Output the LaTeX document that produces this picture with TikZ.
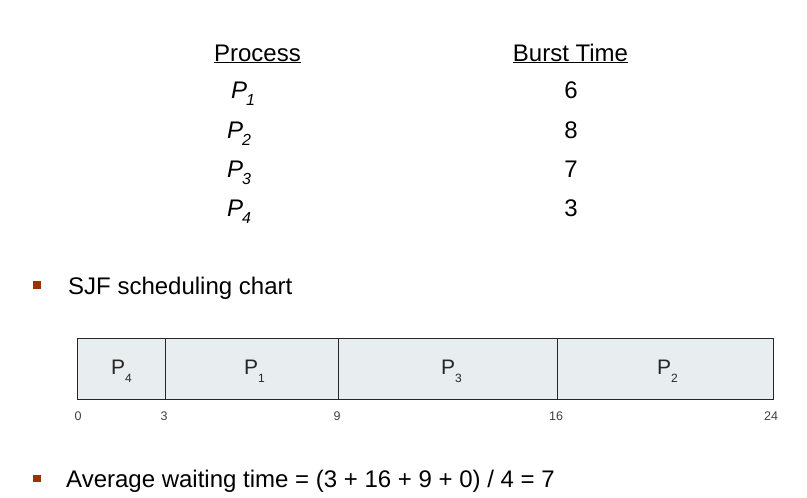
\documentclass[tikz,border=0pt]{standalone}
\usepackage{fontspec}
\setmainfont{Liberation Sans}
\definecolor{bulletbrown}{HTML}{993300}
\definecolor{ganttfill}{HTML}{E8EEEF}
\tikzset{
  big/.style={font=\fontsize{24}{26}\selectfont, inner sep=0pt},
  head/.style={big, anchor=base},
  pname/.style={big, anchor=base west},
  gantt/.style={draw=black!85, line width=0.9pt, fill=ganttfill},
  glabel/.style={font=\fontsize{21}{23}\selectfont, text=black!85, inner sep=0pt, anchor=base west},
  tick/.style={font=\fontsize{12.5}{13}\selectfont, text=black!75, inner sep=0pt, anchor=base},
  bulletsq/.style={fill=bulletbrown, minimum size=7.5pt, inner sep=0pt},
}
\newcommand{\gsub}[1]{\raisebox{-8pt}{\fontsize{12}{13}\selectfont #1}}
\newcommand{\tsub}[1]{\kern-1pt\raisebox{-7pt}{\fontsize{16}{17}\selectfont\itshape #1}}
\begin{document}
\begin{tikzpicture}[x=1pt,y=-1pt]
\useasboundingbox (0,0) rectangle (807,498);
% table
\node[head] (hproc) at (257.5,61) {\underline{Process}};
\node[head] (hburst) at (570.5,61) {\underline{Burst Time}};
\node[pname] (p1) at (231,98) {\textit{P}\tsub{1}};
\node[pname] (p2) at (227,138) {\textit{P}\tsub{2}};
\node[pname] (p3) at (227,177) {\textit{P}\tsub{3}};
\node[pname] (p4) at (227,216) {\textit{P}\tsub{4}};
\node[head] (b1) at (571,98) {6};
\node[head] (b2) at (571,138) {8};
\node[head] (b3) at (571,177) {7};
\node[head] (b4) at (571,216) {3};
% bullet 1
\node[bulletsq] (bul1) at (37,285) {};
\node[big, anchor=base west] (sjf) at (68,294) {SJF scheduling chart};
% gantt chart
\draw[gantt] (77,338) rectangle (165,399.5);
\draw[gantt] (165,338) rectangle (338,399.5);
\draw[gantt] (338,338) rectangle (557,399.5);
\draw[gantt] (557,338) rectangle (773,399.5);
\node[glabel] (g4) at (111,374) {P\gsub{4}};
\node[glabel] (g1) at (244,374) {P\gsub{1}};
\node[glabel] (g3) at (441,374) {P\gsub{3}};
\node[glabel] (g2) at (657,374) {P\gsub{2}};
\node[tick] (t0) at (78,420) {0};
\node[tick] (t3) at (164,420) {3};
\node[tick] (t9) at (337,420) {9};
\node[tick] (t16) at (556,420) {16};
\node[tick] (t24) at (771,420) {24};
% bullet 2
\node[bulletsq] (bul2) at (37,478.5) {};
\node[big, anchor=base west] (avg) at (66,487) {Average waiting time = (3 + 16 + 9 + 0) / 4 = 7};
\end{tikzpicture}
\end{document}
